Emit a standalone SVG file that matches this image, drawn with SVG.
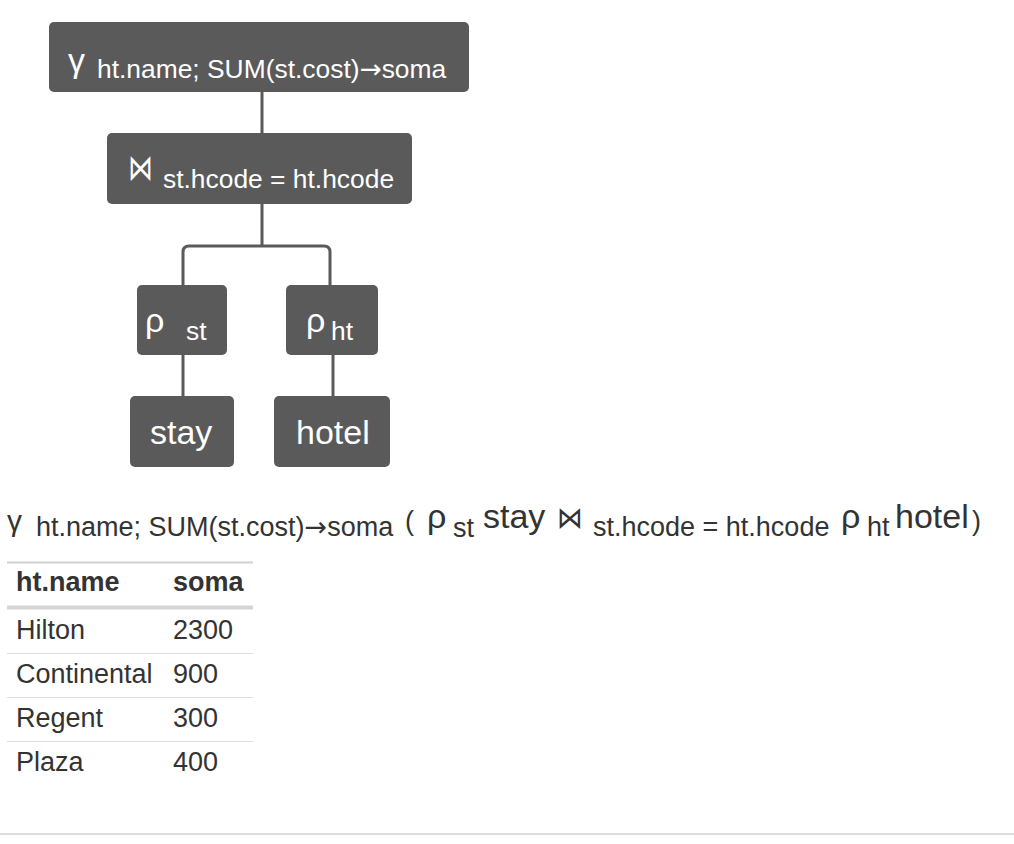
<svg xmlns="http://www.w3.org/2000/svg" width="1014" height="844" viewBox="0 0 1014 844">
<style>
text{font-family:"Liberation Sans",Arial,sans-serif;}
.node rect{fill:#5a5a5a;}
.nt{fill:#ffffff;}
.big{font-size:34px;}
.sub{font-size:26.4px;}
.esub{font-size:27px;}
.sym{font-family:"DejaVu Sans",sans-serif;}
.arr{font-family:"DejaVu Sans",sans-serif;}
.conn{fill:none;stroke:#5a5a5a;stroke-width:3;}
.dark{fill:#333333;}
.tb{font-size:27px;fill:#333333;}
.hd{font-weight:bold;}
</style>
<rect width="1014" height="844" fill="#ffffff"/>
<g id="connectors">
<path class="conn" d="M262 92 V133"/>
<path class="conn" d="M262 204 V246 M183 285 V252 Q183 246 189 246 H324 Q330 246 330 252 V285"/>
<path class="conn" d="M183 355 V396"/>
<path class="conn" d="M333 355 V396"/>
</g>
<g id="node-group" class="node">
<rect x="49" y="22" width="420" height="70" rx="5"/>
<text class="nt" x="68" y="72" font-size="34">γ</text>
<text class="nt sub" x="97" y="78">ht.name; SUM(st.cost)<tspan class="arr">→</tspan>soma</text>
</g>
<g id="node-join" class="node">
<rect x="107" y="133" width="305" height="71" rx="5"/>
<text class="nt sym" x="128" y="180" font-size="36" textLength="25" lengthAdjust="spacingAndGlyphs">⋈</text>
<text class="nt sub" x="163" y="188">st.hcode = ht.hcode</text>
</g>
<g id="node-rho-st" class="node">
<rect x="137" y="285" width="90" height="70" rx="5"/>
<text class="nt big" x="145" y="332">ρ</text>
<text class="nt sub" x="186" y="340">st</text>
</g>
<g id="node-rho-ht" class="node">
<rect x="286" y="285" width="92" height="70" rx="5"/>
<text class="nt big" x="306" y="332">ρ</text>
<text class="nt sub" x="331" y="340">ht</text>
</g>
<g id="node-stay" class="node">
<rect x="130" y="396" width="104" height="71" rx="5"/>
<text class="nt big" x="150" y="444">stay</text>
</g>
<g id="node-hotel" class="node">
<rect x="274" y="396" width="116" height="71" rx="5"/>
<text class="nt big" x="296" y="444">hotel</text>
</g>
<g id="expression">
<text class="dark" x="7" y="531" font-size="30">γ</text>
<text class="dark esub" x="36" y="536">ht.name; SUM(st.cost)<tspan class="arr">→</tspan>soma</text>
<text class="dark" x="405" y="530" font-size="27">(</text>
<text class="dark big" x="427" y="528">ρ</text>
<text class="dark esub" x="453" y="537">st</text>
<text class="dark big" x="483" y="528">stay</text>
<text class="dark sym" x="557" y="528" font-size="30" textLength="26" lengthAdjust="spacingAndGlyphs">⋈</text>
<text class="dark esub" x="593" y="536">st.hcode = ht.hcode</text>
<text class="dark big" x="841" y="528">ρ</text>
<text class="dark esub" x="867" y="536">ht</text>
<text class="dark big" x="895" y="528">hotel</text>
<text class="dark" x="972" y="530" font-size="27">)</text>
</g>
<g id="result-table">
<line x1="7" y1="562.5" x2="253" y2="562.5" stroke="#d0d0d0" stroke-width="2"/>
<text class="tb hd" x="16" y="591">ht.name</text>
<text class="tb hd" x="173" y="591">soma</text>
<line x1="7" y1="607.5" x2="253" y2="607.5" stroke="#d5d5d5" stroke-width="4"/>
<text class="tb" x="16" y="639">Hilton</text>
<text class="tb" x="173" y="639">2300</text>
<line x1="7" y1="653.5" x2="253" y2="653.5" stroke="#dddddd" stroke-width="1"/>
<text class="tb" x="16" y="683">Continental</text>
<text class="tb" x="173" y="683">900</text>
<line x1="7" y1="697.5" x2="253" y2="697.5" stroke="#dddddd" stroke-width="1"/>
<text class="tb" x="16" y="727">Regent</text>
<text class="tb" x="173" y="727">300</text>
<line x1="7" y1="741.5" x2="253" y2="741.5" stroke="#dddddd" stroke-width="1"/>
<text class="tb" x="16" y="771">Plaza</text>
<text class="tb" x="173" y="771">400</text>
</g>
<line x1="0" y1="834" x2="1014" y2="834" stroke="#dddddd" stroke-width="2"/>
</svg>
